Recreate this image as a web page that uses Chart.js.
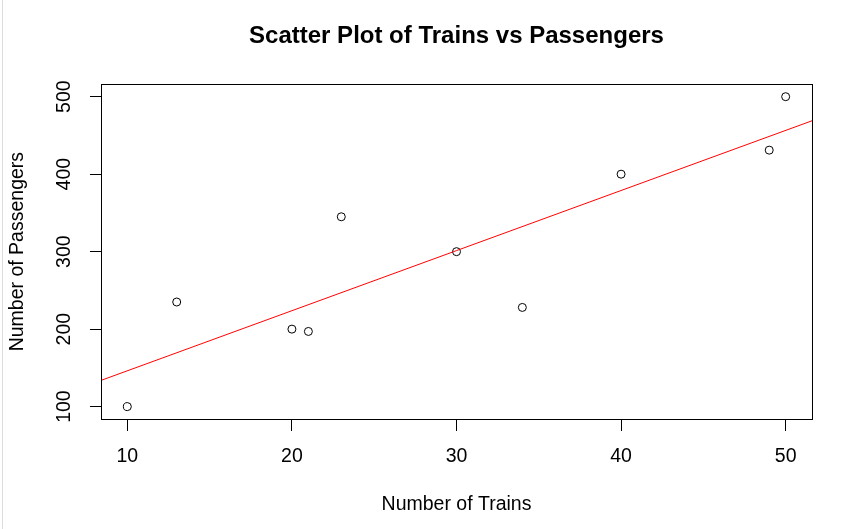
<!DOCTYPE html>
<html>
<head>
<meta charset="utf-8">
<script src="https://cdn.jsdelivr.net/npm/chart.js@4/dist/chart.umd.min.js"></script>
<style>
  html, body { margin: 0; padding: 0; background: #fff; }
  #wrap { position: relative; width: 854px; height: 529px; }
  #edge { position: absolute; left: 2px; top: 0; width: 1px; height: 529px; background: #dcdcdc; }
</style>
</head>
<body>
<div id="wrap">
  <canvas id="scatterChart" width="854" height="529"></canvas>
  <div id="edge"></div>
</div>
<script>
// values
const trains = [10, 13, 20, 21, 23, 30, 34, 40, 49, 50];
const passengers = [100, 235, 200, 197, 345, 300, 228, 400, 431, 500];
const xTicks = [10, 20, 30, 40, 50];
const yTicks = [100, 200, 300, 400, 500];

// axis ranges as R extends them (4% each side)
const xRange = [8.4, 51.6];
const yRange = [84, 516];

// least squares fit, same as abline(lm(passengers ~ trains))
function fitLine(xs, ys) {
  const n = xs.length;
  const mx = xs.reduce((a, b) => a + b, 0) / n;
  const my = ys.reduce((a, b) => a + b, 0) / n;
  let sxy = 0, sxx = 0;
  for (let i = 0; i < n; i++) {
    sxy += (xs[i] - mx) * (ys[i] - my);
    sxx += (xs[i] - mx) * (xs[i] - mx);
  }
  const slope = sxy / sxx;
  return { slope: slope, intercept: my - slope * mx };
}

const fit = fitLine(trains, passengers);
const fitPoints = xRange.map(x => ({ x: x, y: fit.intercept + fit.slope * x }));

const font = { family: "'Liberation Sans', Arial, sans-serif", size: 19.5 };

// draws the full box around the plot region
const boxPlugin = {
  id: 'plotBox',
  afterDraw(chart) {
    const { ctx, chartArea } = chart;
    ctx.save();
    ctx.strokeStyle = '#000';
    ctx.lineWidth = 1;
    ctx.strokeRect(Math.round(chartArea.left) + 0.5, Math.round(chartArea.top) + 0.5,
      Math.round(chartArea.right - chartArea.left), Math.round(chartArea.bottom - chartArea.top));
    ctx.restore();
  }
};

new Chart(document.getElementById('scatterChart'), {
  type: 'scatter',
  data: {
    datasets: [
      {
        label: 'Regression',
        type: 'line',
        data: fitPoints,
        borderColor: 'rgb(255, 0, 0)',
        borderWidth: 1,
        pointRadius: 0,
        fill: false,
        order: 0
      },
      {
        label: 'Trains vs Passengers',
        data: trains.map((x, i) => ({ x: x, y: passengers[i] })),
        pointStyle: 'circle',
        pointRadius: 4,
        pointBorderWidth: 1,
        borderColor: '#000',
        backgroundColor: 'rgba(0,0,0,0)',
        order: 1
      }
    ]
  },
  options: {
    responsive: false,
    animation: false,
    devicePixelRatio: 1,
    layout: { padding: { left: 0, right: 42, top: 0, bottom: 0 } },
    plugins: {
      legend: { display: false },
      tooltip: { enabled: false },
      title: {
        display: true,
        fullSize: false,
        text: 'Scatter Plot of Trains vs Passengers',
        color: '#000',
        font: { family: font.family, size: 24, weight: 'bold' },
        padding: { top: 21.5, bottom: 34 }
      }
    },
    scales: {
      x: {
        type: 'linear',
        min: xRange[0],
        max: xRange[1],
        afterBuildTicks: (scale) => { scale.ticks = xTicks.map(v => ({ value: v })); },
        afterFit: (scale) => { scale.height = 110; },
        border: { display: false },
        grid: { drawOnChartArea: false, drawTicks: true, tickLength: 12, color: '#000' },
        ticks: { color: '#000', font: font, padding: 14, maxRotation: 0 },
        title: {
          display: true,
          text: 'Number of Trains',
          color: '#000',
          font: font,
          padding: { top: 0, bottom: 13 }
        }
      },
      y: {
        type: 'linear',
        min: yRange[0],
        max: yRange[1],
        afterBuildTicks: (scale) => { scale.ticks = yTicks.map(v => ({ value: v })); },
        afterFit: (scale) => { scale.width = 101; },
        border: { display: false },
        grid: { drawOnChartArea: false, drawTicks: true, tickLength: 11, color: '#000' },
        ticks: { color: '#000', font: font, padding: 9, minRotation: 90, maxRotation: 90, crossAlign: 'center' },
        title: {
          display: true,
          text: 'Number of Passengers',
          color: '#000',
          font: font,
          padding: { top: 6, bottom: 0 }
        }
      }
    }
  },
  plugins: [boxPlugin]
});
</script>
</body>
</html>
